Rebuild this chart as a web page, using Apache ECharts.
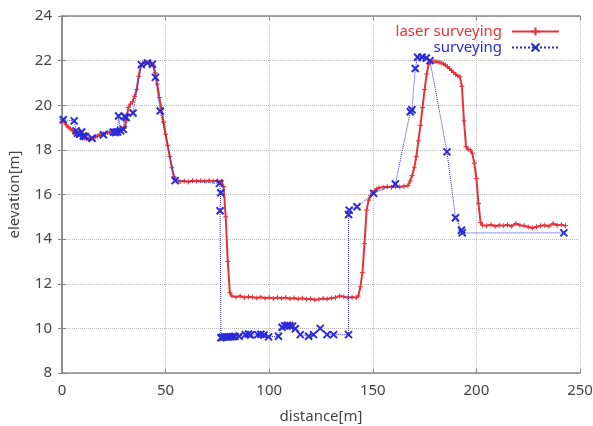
<!DOCTYPE html>
<html>
<head>
<meta charset="utf-8">
<script src="https://cdn.jsdelivr.net/npm/echarts@6/dist/echarts.min.js"></script>
<style>
html, body { margin: 0; padding: 0; background: #fff; }
#main { width: 593px; height: 426px; }
</style>
</head>
<body>
<div id="main"></div>
<script>
// laser surveying profile
var laserDist = [0,1,2,3,4,5,6,7,8,9,10,11,12,13,14,15,16,17,18,19,20,21,22,23,24,25,26,27,28,29,
	30,31,32,33,34,35,36,37,38,39,40,41,42,43,44,45,46,47,48,49,50,51,52,53,54,55,57,59,61,63,
	65,67,69,71,73,75,77,78,79,80,81,82,84,86,88,90,92,94,96,98,100,102,104,106,108,110,112,114,116,118,
	120,122,124,126,128,130,132,134,136,138,140,142,143,144,145,146,147,148,149,150,151,152,153,155,157,159,161,163,165,167,
	168,169,170,171,172,173,174,175,176,177,178,179,180,181,182,183,184,185,186,187,188,189,190,191,192,193,194,195,196,197,
	198,199,200,201,202,203,205,207,209,211,213,215,217,219,221,223,225,227,229,231,233,235,237,239,241,243];
var laserElev = [19.35,19.25,19.12,19.02,18.95,18.86,18.8,18.74,18.68,18.62,18.57,18.53,18.5,18.48,18.5,18.54,18.58,18.62,18.66,18.7,18.72,18.75,18.78,18.8,18.83,18.86,18.88,18.9,18.91,18.93,
	18.96,19.3,19.9,20.05,20.15,20.4,20.7,21.3,21.75,21.88,21.92,21.93,21.92,21.9,21.8,21.45,20.95,20.35,19.8,19.25,18.7,18.2,17.7,17.2,16.8,16.65,16.58,16.6,16.57,16.62,
	16.6,16.62,16.6,16.63,16.6,16.62,16.6,16.35,15.0,13.0,11.6,11.45,11.4,11.45,11.38,11.42,11.4,11.36,11.4,11.35,11.38,11.34,11.38,11.35,11.38,11.33,11.36,11.32,11.35,11.3,
	11.33,11.28,11.3,11.34,11.32,11.36,11.38,11.45,11.42,11.38,11.4,11.38,11.45,11.86,12.5,13.8,15.3,15.75,15.95,16.1,16.18,16.25,16.3,16.33,16.35,16.32,16.36,16.34,16.37,16.4,
	16.6,16.85,17.2,17.7,18.4,19.1,19.9,20.7,21.4,21.85,21.95,21.97,21.96,21.95,21.93,21.9,21.86,21.8,21.73,21.65,21.56,21.47,21.38,21.32,21.28,20.85,19.3,18.15,18.02,18.0,
	17.85,17.4,16.72,15.6,14.75,14.62,14.6,14.65,14.58,14.62,14.6,14.64,14.58,14.7,14.62,14.6,14.55,14.5,14.55,14.6,14.62,14.58,14.7,14.62,14.65,14.6];

// conventional surveying points
var surveyDist = [0.6,5.9,6.8,7.5,8.5,9.5,10.3,11.2,14.5,20,24.8,25.8,26.8,27.3,28.3,29.6,30.2,31,34.3,38.3,
	41.2,43.6,45.1,47.4,54.6,76,76.6,76.3,76.7,77.5,78.5,79.5,80.5,81.5,82.5,83.5,85.5,88.5,90,91,
	94.5,96,97.5,99.7,104.5,106.2,107.5,108.8,110,111.3,112.6,115,119,121.4,124.6,127.9,131.1,138.3,138.3,138.6,
	142.4,150.4,160.9,168.1,168.9,170.5,171.6,173.8,175.8,177.6,185.8,189.9,192.8,193.2,242.2];
var surveyElev = [19.35,19.3,18.85,18.75,18.7,18.8,18.62,18.6,18.52,18.68,18.8,18.78,18.8,19.52,18.85,18.92,19.5,19.45,19.65,21.82,
	21.9,21.84,21.25,19.74,16.62,16.5,16.08,15.27,9.58,9.6,9.62,9.62,9.62,9.62,9.63,9.64,9.65,9.72,9.75,9.7,
	9.72,9.74,9.7,9.62,9.65,10.05,10.12,10.14,10.12,10.1,9.98,9.72,9.65,9.72,10.0,9.72,9.72,9.72,15.1,15.3,
	15.45,16.05,16.47,19.71,19.8,21.65,22.15,22.15,22.12,22.0,17.91,14.96,14.4,14.28,14.28];

var seriesNames = ['laser surveying', 'surveying'];
var redColor = '#e5333a';
var blueColor = '#2b2bd8';

function pairs(xs, ys) {
	var out = [];
	for (var i = 0; i < xs.length; i++) {
		out.push([xs[i], ys[i]]);
	}
	return out;
}

var fontName = 'Noto Sans';
var labelColor = '#444';
var gridLine = { show: true, lineStyle: { color: '#bdbdbd', type: 'dotted', width: 1 } };
var frameLine = { show: true, lineStyle: { color: '#888', width: 1.5 } };
var innerTick = { show: true, inside: true, length: 4, lineStyle: { color: '#888' } };

var myChart = echarts.init(document.getElementById('main'), null, { renderer: 'canvas' });
var option = {
	backgroundColor: '#fff',
	animation: false,
	grid: { left: 62, right: 13, top: 16, bottom: 53, show: false, outerBoundsMode: 'none' },
	legend: [
		{
			data: [seriesNames[0]],
			right: 33, top: 24,
			padding: 0,
			align: 'right',
			itemWidth: 47, itemHeight: 10,
			textStyle: { color: redColor, fontSize: 15, fontFamily: fontName, padding: [0, 5, 0, 0] }
		},
		{
			data: [seriesNames[1]],
			right: 33, top: 40,
			padding: 0,
			align: 'right',
			itemWidth: 47, itemHeight: 10,
			textStyle: { color: blueColor, fontSize: 15, fontFamily: fontName, padding: [0, 5, 0, 0] }
		}
	],
	xAxis: [
		{
			type: 'value',
			min: 0, max: 250, interval: 50,
			name: 'distance[m]',
			nameLocation: 'middle',
			nameGap: 36,
			nameTextStyle: { color: labelColor, fontSize: 15, fontFamily: fontName },
			axisLine: frameLine,
			axisTick: innerTick,
			axisLabel: { color: labelColor, fontSize: 15, fontFamily: fontName, margin: 10 },
			splitLine: gridLine
		},
		{
			type: 'value', position: 'top',
			min: 0, max: 250, interval: 50,
			axisLine: frameLine,
			axisTick: innerTick,
			axisLabel: { show: false },
			splitLine: { show: false }
		}
	],
	yAxis: [
		{
			type: 'value',
			min: 8, max: 24, interval: 2,
			name: 'elevation[m]',
			nameLocation: 'middle',
			nameGap: 40,
			nameRotate: 90,
			nameTextStyle: { color: labelColor, fontSize: 15, fontFamily: fontName },
			axisLine: frameLine,
			axisTick: innerTick,
			axisLabel: { color: labelColor, fontSize: 15, fontFamily: fontName, margin: 10 },
			splitLine: gridLine
		},
		{
			type: 'value', position: 'right',
			min: 8, max: 24, interval: 2,
			axisLine: frameLine,
			axisTick: innerTick,
			axisLabel: { show: false },
			splitLine: { show: false }
		}
	],
	series: [
		{
			name: seriesNames[0],
			type: 'line',
			data: pairs(laserDist, laserElev),
			symbol: 'path://M0,5L10,5M5,0L5,10',
			symbolSize: 5,
			showAllSymbol: true,
			lineStyle: { color: redColor, width: 2 },
			itemStyle: { color: redColor, borderColor: redColor, borderWidth: 1 },
			z: 3
		},
		{
			name: seriesNames[1],
			type: 'line',
			data: pairs(surveyDist, surveyElev),
			symbol: 'path://M0,0L10,10M10,0L0,10',
			symbolSize: 7,
			showAllSymbol: true,
			lineStyle: { color: blueColor, width: 1, type: 'dotted' },
			itemStyle: { color: blueColor, borderColor: blueColor, borderWidth: 2 },
			z: 4
		}
	]
};
myChart.setOption(option);
</script>
</body>
</html>
